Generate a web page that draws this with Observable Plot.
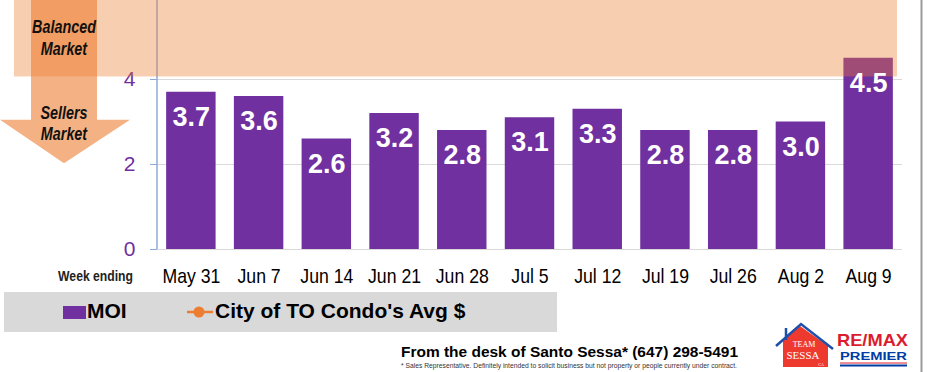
<!DOCTYPE html>
<html><head><meta charset="utf-8">
<script src="https://cdn.jsdelivr.net/npm/d3@7"></script>
<script src="https://cdn.jsdelivr.net/npm/@observablehq/plot@0.6"></script>
<style>
body{margin:0;background:#fff;}
#wrap{position:relative;width:928px;height:372px;overflow:hidden;font-family:"Liberation Sans",Arial,sans-serif;}
#wrap svg{position:absolute;left:0;top:0;}
</style></head><body><div id="wrap"></div>
<script>
// ---- data ----
const weeks = ["May 31","Jun 7","Jun 14","Jun 21","Jun 28","Jul 5","Jul 12","Jul 19","Jul 26","Aug 2","Aug 9"];
const moi = [3.7, 3.6, 2.6, 3.2, 2.8, 3.1, 3.3, 2.8, 2.8, 3.0, 4.5];
const yTicks = [0, 2, 4];
const seriesNames = ["MOI", "City of TO Condo's Avg $"];
const balancedFloor = 4.06;   // lower edge of the "Balanced Market" zone
const arrowHeadAt = 3.04;     // arrow head start (MOI units)
const arrowTipAt = 2.02;      // arrow tip (MOI units)

const purple = "#7030a0", orange = "#ed7d31", axisBlue = "#8eaadb";
const font = '"Liberation Sans",Arial,sans-serif';

const data = weeks.map((w, i) => ({week: w, moi: moi[i]}));

const plot = Plot.plot({
  width: 928, height: 290,
  marginLeft: 157, marginRight: 26, marginTop: 0, marginBottom: 41,
  style: {fontFamily: font, background: "transparent"},
  x: {domain: weeks, paddingInner: 0.27, paddingOuter: 0.135, round: false, label: null},
  y: {domain: [0, 249 / 42.5], label: null},
  marks: [
    Plot.ruleY(yTicks, {stroke: "#d9d9d9", strokeWidth: 1}),
    Plot.barY(data, {x: "week", y: "moi", fill: purple}),
    Plot.axisY({ticks: yTicks, tickFormat: d => String(d), tickSize: 7, tickPadding: 15, stroke: axisBlue, fill: purple, fontSize: 21, label: null}),
    Plot.axisX({tickSize: 0, tickPadding: 19, fontSize: 21, fill: "#000", label: null}),
    Plot.text(data, {x: "week", y: "moi", text: d => d.moi.toFixed(1), fill: "white", fontSize: 27, fontWeight: "bold", dy: 25, lineAnchor: "middle"})
  ]
});
document.getElementById("wrap").appendChild(plot);

// condense text (the reference uses a narrow face)
function squeeze(sel, f) {
  sel.each(function () {
    const w = this.getComputedTextLength();
    this.setAttribute("textLength", (w * f).toFixed(1));
    this.setAttribute("lengthAdjust", "spacingAndGlyphs");
  });
}
const svg = d3.select(plot);
squeeze(svg.selectAll('g[aria-label="x-axis tick label"] text'), 0.84);

// ---- annotations placed with the plot's own y scale ----
const y = plot.scale("y");
const textNode = svg.select('g[aria-label="text"]').node();
const g = d3.create("svg:g");
plot.insertBefore(g.node(), textNode);
const x0 = 157;
g.append("line").attr("x1", x0).attr("x2", x0).attr("y1", 0).attr("y2", y.apply(0)).attr("stroke", axisBlue).attr("stroke-width", 1.5);
const yb = y.apply(balancedFloor);
g.append("rect").attr("x", 14).attr("y", 0).attr("width", 897 - 14).attr("height", yb).attr("fill", orange).attr("fill-opacity", 0.38);
const yh = y.apply(arrowHeadAt), yt = y.apply(arrowTipAt);
g.append("path").attr("d", `M31,0 L97,0 L97,${yh} L130,${yh} L64,${yt} L0,${yh} L31,${yh} Z`).attr("fill", orange).attr("fill-opacity", 0.6);
const lab = (t, x, yy) => g.append("text").attr("x", x).attr("y", yy).attr("text-anchor", "middle")
  .attr("font-family", font).attr("font-weight", "bold").attr("font-style", "italic").attr("font-size", 17.5).attr("fill", "#111").text(t);
const arrowTexts = [lab("Balanced", 64, 33), lab("Market", 64, 55), lab("Sellers", 64, 119), lab("Market", 64, 140)];
arrowTexts.forEach(s => squeeze(s, 0.82));
const we = g.append("text").attr("x", 133).attr("y", 281).attr("text-anchor", "end").attr("font-family", font)
  .attr("font-weight", "bold").attr("font-size", 14).attr("fill", "#222").text("Week ending");
squeeze(we, 0.87);

// ---- legend, footer, logos ----
const ov = d3.select("#wrap").append("svg").attr("width", 928).attr("height", 372).style("pointer-events", "none");
ov.append("rect").attr("x", 4).attr("y", 292).attr("width", 553).attr("height", 40).attr("fill", "#d9d9d9");
ov.append("rect").attr("x", 63).attr("y", 306).attr("width", 23).attr("height", 13).attr("fill", purple);
ov.append("text").attr("x", 87).attr("y", 318).attr("font-weight", "bold").attr("font-size", 21).attr("fill", "#000").text(seriesNames[0]);
ov.append("line").attr("x1", 187).attr("x2", 213).attr("y1", 312).attr("y2", 312).attr("stroke", orange).attr("stroke-width", 2.5);
ov.append("circle").attr("cx", 199).attr("cy", 312).attr("r", 5.5).attr("fill", orange);
ov.append("text").attr("x", 215).attr("y", 318).attr("font-weight", "bold").attr("font-size", 21).attr("fill", "#000").text(seriesNames[1]);

ov.append("text").attr("x", 401).attr("y", 357).attr("font-weight", "bold").attr("font-size", 15.5).attr("fill", "#000")
  .attr("textLength", 337).attr("lengthAdjust", "spacingAndGlyphs").text("From the desk of Santo Sessa* (647) 298-5491");
ov.append("text").attr("x", 401).attr("y", 368).attr("font-size", 6.5).attr("fill", "#333")
  .attr("textLength", 336).attr("lengthAdjust", "spacingAndGlyphs")
  .text("* Sales Representative.  Definitely  intended  to solicit  business  but not property or people currently  under contract.");

ov.append("line").attr("x1", 921.5).attr("x2", 921.5).attr("y1", 0).attr("y2", 372).attr("stroke", "#9a9a9a").attr("stroke-width", 2);

// Team Sessa logo
const tl = ov.append("g");
tl.append("path").attr("d", "M783,340 L800,326 L828,346 L828,367 L783,367 Z").attr("fill", "#ee3a2e");
tl.append("path").attr("d", "M776,346 L801,324 L833,349").attr("fill", "none").attr("stroke", "#1f4fa8").attr("stroke-width", 2.5);
tl.append("line").attr("x1", 786).attr("x2", 786).attr("y1", 328).attr("y2", 340).attr("stroke", "#1f4fa8").attr("stroke-width", 2.5);
tl.append("text").attr("x", 804).attr("y", 347).attr("text-anchor", "middle").attr("font-family", '"Liberation Serif",serif').attr("font-size", 8).attr("fill", "#fff").text("TEAM");
tl.append("text").attr("x", 803).attr("y", 359).attr("text-anchor", "middle").attr("font-family", '"Liberation Serif",serif').attr("font-size", 11).attr("fill", "#fff").text("SESSA");
tl.append("text").attr("x", 821).attr("y", 366).attr("text-anchor", "middle").attr("font-family", '"Liberation Serif",serif').attr("font-size", 4).attr("fill", "#fff").text("CA");
// RE/MAX Premier logo
const rl = ov.append("g");
rl.append("text").attr("x", 837).attr("y", 345.5).attr("font-weight", "bold").attr("font-size", 17).attr("fill", "#dc1c2e")
  .attr("textLength", 71).attr("lengthAdjust", "spacingAndGlyphs").text("RE/MAX");
rl.append("text").attr("x", 840).attr("y", 360).attr("font-weight", "bold").attr("font-size", 11).attr("fill", "#003da5")
  .attr("textLength", 67).attr("lengthAdjust", "spacingAndGlyphs").text("PREMIER");
rl.append("rect").attr("x", 840).attr("y", 362.5).attr("width", 67).attr("height", 1).attr("fill", "#dc1c2e");
rl.append("rect").attr("x", 840).attr("y", 364.5).attr("width", 67).attr("height", 2).attr("fill", "#003da5");
</script></body></html>
